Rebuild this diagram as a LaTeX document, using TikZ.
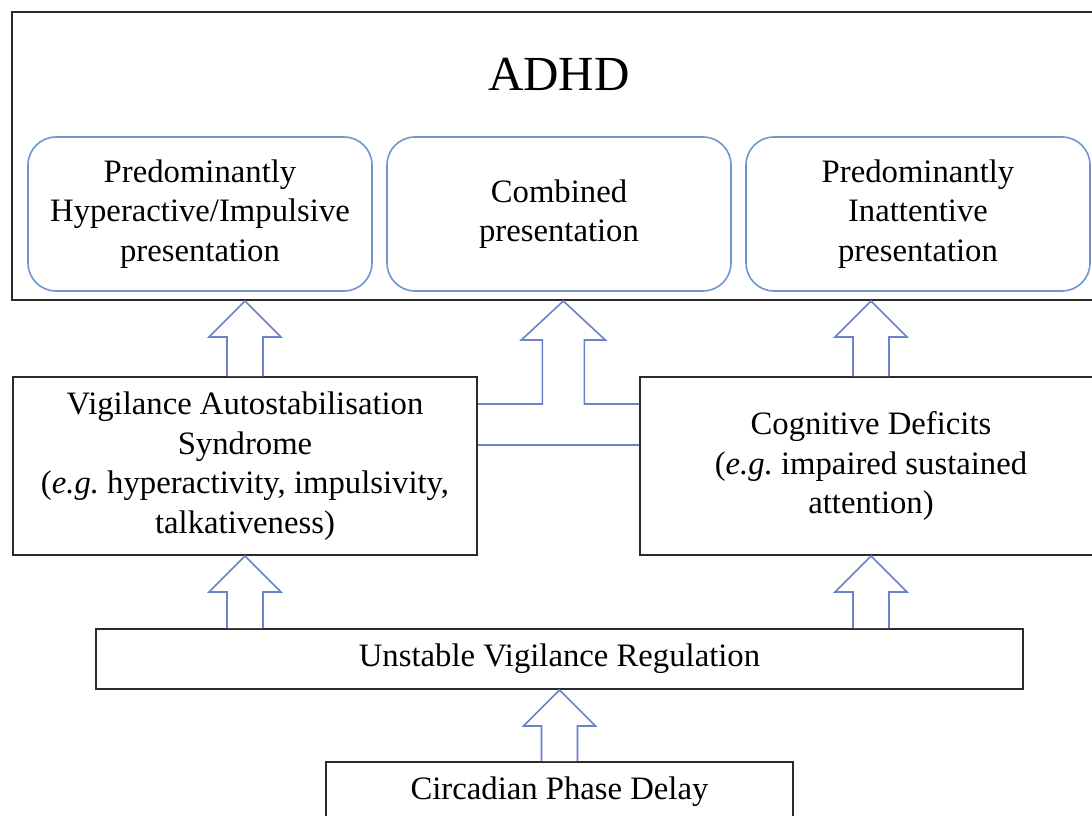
\documentclass[tikz,border=0pt]{standalone}
\usepackage{fontspec}
\setmainfont{Liberation Serif}
\usetikzlibrary{calc}
\definecolor{frame1}{HTML}{2B2B2B}
\definecolor{blue4}{HTML}{7096CF}
\definecolor{blue5}{HTML}{6A82C8}
\newcommand{\upblock}[3]{%
  \draw[blockarrow] let \p0=(#1.center), \p1=(#2.north), \p2=(#3.south) in
    (\x0-18pt,\y1) -- (\x0-18pt,\y2-36pt) -- (\x0-36pt,\y2-36pt) -- (\x0,\y2)
    -- (\x0+36pt,\y2-36pt) -- (\x0+18pt,\y2-36pt) -- (\x0+18pt,\y1);}

\begin{document}
\begin{tikzpicture}[x=1pt, y=-1pt, align=center, font=\fontsize{32.7}{39.5}\selectfont,
  box/.style={draw=frame1, line width=2pt, inner sep=0pt},
  typebox/.style={draw=blue4, line width=1.6pt, rounded corners=28pt, minimum width=344pt, minimum height=154pt, inner sep=0pt},
  blockarrow/.style={draw=blue5, line width=1.6pt, fill=white, line join=miter}]
\useasboundingbox (0,0) rectangle (1092,816);
\clip (0,0) rectangle (1092,816);
\node[box, minimum width=1094pt, minimum height=288pt] (adhd) at (559,156) {};
\node[anchor=base, font=\fontsize{49}{59}\selectfont] (title) at (559,91) {ADHD};
\node[typebox] (hyp) at (200,214) {Predominantly\\Hyperactive/Impulsive\\presentation};
\node[typebox] (comb) at (559,214) {Combined\\presentation};
\node[typebox] (inat) at (918,214) {Predominantly\\Inattentive\\presentation};
\node[box, minimum width=464pt, minimum height=178pt] (vas) at (245,466) {Vigilance Autostabilisation\\Syndrome\\(\textit{e.g.}\ hyperactivity, impulsivity,\\talkativeness)};
\node[box, minimum width=462pt, minimum height=178pt] (cd) at (871,466) {Cognitive Deficits\\(\textit{e.g.}\ impaired sustained\\attention)};
\node[box, minimum width=927pt, minimum height=60pt] (uvr) at (559.5,659) {Unstable Vigilance Regulation};
\node[box, minimum width=467pt, minimum height=60pt] (cpd) at (559.5,792) {Circadian Phase Delay};
\upblock{vas}{vas}{adhd}
\upblock{cd}{cd}{adhd}
\upblock{vas}{uvr}{vas}
\upblock{cd}{uvr}{cd}
\upblock{cpd}{cpd}{uvr}
\draw[blockarrow] let \p1=($(vas.east)!0.53!(cd.west)$), \p2=(vas.east), \p3=(cd.west), \p4=(adhd.south) in
  (\x2,\y2+62pt) -- (\x1-21pt,\y2+62pt) -- (\x1-21pt,\y4-39pt) -- (\x1-42pt,\y4-39pt) -- (\x1,\y4)
  -- (\x1+42pt,\y4-39pt) -- (\x1+21pt,\y4-39pt) -- (\x1+21pt,\y2+62pt) -- (\x3,\y2+62pt)
  (\x2,\y2+21pt) -- (\x3,\y2+21pt);
\end{tikzpicture}
\end{document}
